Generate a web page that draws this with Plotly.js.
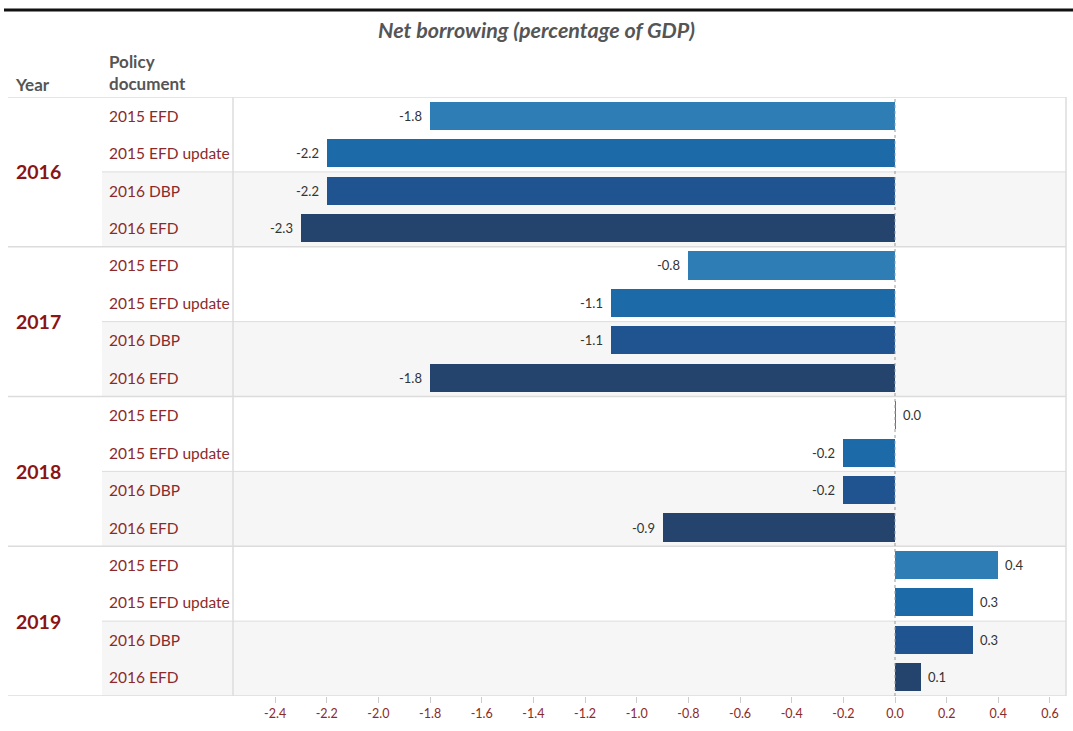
<!DOCTYPE html>
<html>
<head>
<meta charset="utf-8">
<script src="https://cdn.plot.ly/plotly-3.0.1.min.js"></script>
<style>html,body{margin:0;padding:0;background:#fff;}#chart{width:1073px;height:731px;}</style>
</head>
<body>
<div id="chart"></div>
<script>
const years = ['2016', '2017', '2018', '2019'];
const documents = ['2015 EFD', '2015 EFD update', '2016 DBP', '2016 EFD'];
const values2016 = [-1.8, -2.2, -2.2, -2.3];
const values2017 = [-0.8, -1.1, -1.1, -1.8];
const values2018 = [0.005, -0.2, -0.2, -0.9];
const values2019 = [0.4, 0.3, 0.3, 0.1];
const docColors = ['#2e7eb5', '#1c6ba8', '#1f5491', '#25446d'];
const tickVals = [-2.4, -2.2, -2.0, -1.8, -1.6, -1.4, -1.2, -1.0, -0.8, -0.6, -0.4, -0.2, 0.0, 0.2, 0.4, 0.6];
const tickLabels = ['-2.4', '-2.2', '-2.0', '-1.8', '-1.6', '-1.4', '-1.2', '-1.0', '-0.8', '-0.6', '-0.4', '-0.2', '0.0', '0.2', '0.4', '0.6'];

const allValues = [values2016, values2017, values2018, values2019];
const W = 1073, H = 731;
const L = 233, R = 7, T = 97, B = 35;
const pw = W - L - R, ph = H - T - B;
const px = v => (v - L) / pw;
const py = v => 1 - (v - T) / ph;
const FONT = 'Lato, sans-serif';

const xs = [], ys = [], cols = [];
const annotations = [];
allValues.forEach((vals, g) => {
  vals.forEach((v, d) => {
    xs.push(v);
    ys.push(g * 4 + d);
    cols.push(docColors[d]);
    annotations.push({xref: 'x', yref: 'y', x: v, y: g * 4 + d, xanchor: v < 0 ? 'right' : 'left', xshift: v < 0 ? -6 : 5, yanchor: 'middle', showarrow: false, text: (v < 0 ? '-' : '') + Math.abs(v).toFixed(1), font: {family: FONT, size: 13, color: '#333'}});
  });
});

const trace = {
  type: 'bar', orientation: 'h',
  x: xs, y: ys, width: 0.75,
  marker: {color: cols, line: {width: 0}},
  hoverinfo: 'none'
};

const shapes = [];
const lineCol = '#dcdcdc';
for (let g = 0; g < years.length; g++) {
  const base = g * 4;
  shapes.push({type: 'rect', layer: 'below', xref: 'paper', yref: 'y', x0: px(102), x1: 1, y0: base + 1.5, y1: base + 3.5, fillcolor: '#f6f6f6', line: {width: 0}});
  shapes.push({type: 'line', layer: 'below', xref: 'paper', yref: 'y', x0: px(102), x1: 1, y0: base + 1.5, y1: base + 1.5, line: {color: lineCol, width: 1}});
  shapes.push({type: 'line', layer: 'below', xref: 'paper', yref: 'y', x0: px(8), x1: 1, y0: base - 0.5, y1: base - 0.5, line: {color: lineCol, width: 1.5}});
  annotations.push({xref: 'paper', yref: 'y', x: px(14), y: base + 1.5, xanchor: 'left', yanchor: 'middle', showarrow: false, text: '<b>' + years[g] + '</b>', font: {family: FONT, size: 19.5, color: '#8b1414'}});
  documents.forEach((d, i) => {
    annotations.push({xref: 'paper', yref: 'y', x: px(107), y: base + i, xanchor: 'left', yanchor: 'middle', showarrow: false, text: d, font: {family: FONT, size: 15.5, color: '#8b2a2a'}});
  });
}
shapes.push({type: 'line', layer: 'below', xref: 'paper', yref: 'y', x0: px(8), x1: 1, y0: 15.5, y1: 15.5, line: {color: lineCol, width: 1.5}});
shapes.push({type: 'line', layer: 'below', xref: 'paper', yref: 'paper', x0: 0, x1: 0, y0: 0, y1: 1, line: {color: lineCol, width: 1.5}});
shapes.push({type: 'line', layer: 'below', xref: 'paper', yref: 'paper', x0: 1, x1: 1, y0: 0, y1: 1, line: {color: lineCol, width: 1.5}});
shapes.push({type: 'line', layer: 'above', xref: 'x', yref: 'paper', x0: 0, x1: 0, y0: 0, y1: 1, line: {color: '#999', width: 1, dash: 'dot'}});
shapes.push({type: 'line', xref: 'paper', yref: 'paper', x0: px(4), x1: px(1073), y0: py(10), y1: py(10), line: {color: '#111', width: 3}});

annotations.push({xref: 'paper', yref: 'paper', x: px(13), y: py(84), xanchor: 'left', yanchor: 'middle', showarrow: false, text: '<b>Year</b>', font: {family: FONT, size: 17, color: '#555'}});
annotations.push({xref: 'paper', yref: 'paper', x: px(107), y: py(72.5), xanchor: 'left', yanchor: 'middle', align: 'left', showarrow: false, text: '<b>Policy</b><br><b>document</b>', font: {family: FONT, size: 17, color: '#555'}});

const layout = {
  width: W, height: H,
  margin: {l: L, r: R, t: T, b: B, pad: 0},
  paper_bgcolor: '#fff', plot_bgcolor: 'rgba(0,0,0,0)',
  showlegend: false,
  title: {text: '<b><i>Net borrowing (percentage of GDP)</i></b>', x: 0.5, xref: 'container', xanchor: 'center', y: 1 - 30 / H, yref: 'container', yanchor: 'middle', font: {family: FONT, size: 21.5, color: '#555'}},
  xaxis: {
    range: [-2.563, 0.662], tickvals: tickVals, ticktext: tickLabels,
    ticks: 'outside', ticklen: 6, tickcolor: '#ccc', tickwidth: 1,
    showgrid: false, zeroline: false, showline: false,
    tickfont: {family: FONT, size: 12.5, color: '#8b2a2a'}
  },
  yaxis: {range: [15.5, -0.5], showticklabels: false, showgrid: false, zeroline: false, showline: false, ticks: ''},
  shapes: shapes,
  annotations: annotations,
  bargap: 0
};

Plotly.newPlot('chart', [trace], layout, {displayModeBar: false, staticPlot: true});
</script>
</body>
</html>
